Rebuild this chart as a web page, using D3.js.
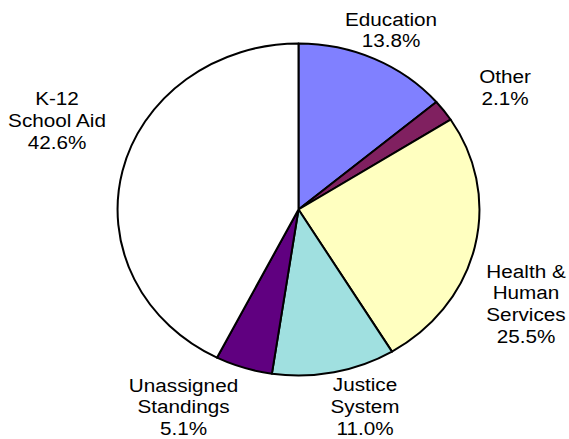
<!DOCTYPE html>
<html>
<head>
<meta charset="utf-8">
<script src="https://cdn.jsdelivr.net/npm/d3@7"></script>
<style>
  html, body { margin: 0; padding: 0; background: #fff; }
  svg { display: block; }
  text { font-family: "Liberation Sans", Arial, sans-serif; font-size: 19px; fill: #000; }
</style>
</head>
<body>
<svg id="chart" width="569" height="439"></svg>
<script>
// Budget shares, clockwise from 12 o'clock
const categories = ["Education", "Other", "Health & Human Services", "Justice System", "Unassigned Standings", "K-12 School Aid"];
const shares = [13.8, 2.1, 25.5, 11.0, 5.1, 42.6];
const sliceColors = ["#8080ff", "#802060", "#ffffc0", "#a0e0e0", "#600080", "#ffffff"];

// Label text lines (percentages appended from shares)
const labelLines = [
  ["Education"],
  ["Other"],
  ["Health &", "Human", "Services"],
  ["Justice", "System"],
  ["Unassigned", "Standings"],
  ["K-12", "School Aid"]
];
// Label anchor: centre x and baseline of first line
const labelPos = [
  [391, 25.5],
  [505, 83],
  [526, 277.5],
  [365, 391],
  [183.5, 391.5],
  [57, 105]
];

const width = 569, height = 439;
const cx = 298.5, cy = 209.5;
const r = 166;          // vertical radius
const stretch = 1.09;   // horizontal stretch of the whole drawing
const lineH = 21.8;

const svg = d3.select("#chart");

const pie = d3.pie().sort(null).value(d => d.v);
const arc = d3.arc().innerRadius(0).outerRadius(r);
const data = pie(categories.map((c, i) => ({ c, v: shares[i], col: sliceColors[i] })));

const g = svg.append("g")
  .attr("transform", `translate(${cx},${cy}) scale(${stretch},1)`);

g.selectAll("path")
  .data(data)
  .join("path")
  .attr("d", arc)
  .attr("fill", d => d.data.col)
  .attr("stroke", "#000")
  .attr("stroke-width", 2)
  .attr("stroke-linejoin", "round")
  .style("vector-effect", "non-scaling-stroke");

const fmt = d3.format(".1f");
const labels = svg.selectAll("g.label")
  .data(data)
  .join("g")
  .attr("class", "label")
  .attr("transform", (d, i) => `translate(${labelPos[i][0]},${labelPos[i][1]}) scale(${stretch},1)`);

labels.each(function (d, i) {
  const lines = labelLines[i].concat([fmt(d.data.v) + "%"]);
  d3.select(this).selectAll("text")
    .data(lines)
    .join("text")
    .attr("text-anchor", "middle")
    .attr("x", 0)
    .attr("y", (t, k) => k * lineH)
    .text(t => t);
});
</script>
</body>
</html>
